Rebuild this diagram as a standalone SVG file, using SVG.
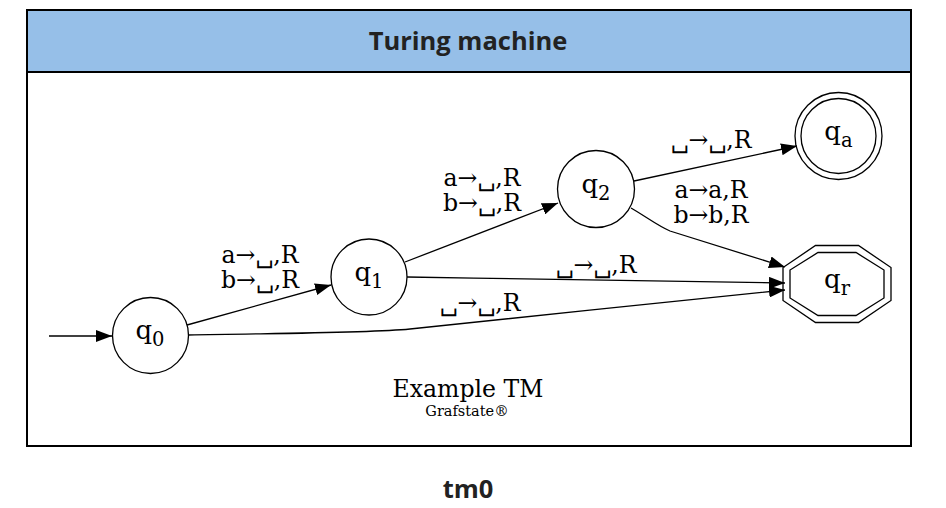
<svg xmlns="http://www.w3.org/2000/svg" width="946" height="508" viewBox="0 0 946 508">
<style>
.frame{fill:#ffffff;stroke:#000000;stroke-width:2}
.head{fill:#96bfe8;stroke:#000000;stroke-width:2}
.title{font-family:"Open Sans","Liberation Sans",sans-serif;font-weight:700;font-size:25.5px;fill:#222222;text-anchor:middle}
.node{fill:none;stroke:#000000;stroke-width:1.3}
.nl{font-family:"DejaVu Serif","Liberation Serif",serif;font-size:26px;fill:#000000;text-anchor:middle}
.sub{font-size:19.5px}
.edge{fill:none;stroke:#000000;stroke-width:1.3}
.el{font-family:"DejaVu Serif","Liberation Serif",serif;font-size:23.6px;fill:#000000;text-anchor:middle}
.gl{font-family:"DejaVu Serif","Liberation Serif",serif;font-size:23.6px;fill:#000000;text-anchor:middle}
.gs{font-family:"DejaVu Serif","Liberation Serif",serif;font-size:14.5px;fill:#000000;text-anchor:middle}
</style>
<defs>
<marker id="arr" viewBox="0 0 16 12" refX="16" refY="6" markerWidth="16" markerHeight="12" markerUnits="userSpaceOnUse" orient="auto">
<path d="M0,0 L16,6 L0,12 Z" fill="#000000"/>
</marker>
</defs>
<rect class="frame" x="27" y="10" width="884" height="436"/>
<rect class="head" x="27" y="10" width="884" height="62"/>
<text class="title" x="468" y="50">Turing machine</text>
<text class="title" x="468" y="498">tm0</text>

<g id="edges">
<path class="edge" d="M49,336 L112,336" marker-end="url(#arr)"/>
<path class="edge" d="M187,325 L331,285" marker-end="url(#arr)"/>
<text class="el" x="260" y="263">a→␣,R</text>
<text class="el" x="260" y="288">b→␣,R</text>
<path class="edge" d="M405,262 L558,203" marker-end="url(#arr)"/>
<text class="el" x="482" y="186">a→␣,R</text>
<text class="el" x="482" y="211">b→␣,R</text>
<path class="edge" d="M407,277 C540,279 680,282 785,283" marker-end="url(#arr)"/>
<text class="el" x="596" y="273">␣→␣,R</text>
<path class="edge" d="M188,335 C300,333 370,333 410,329 C520,318 680,300 785,290" marker-end="url(#arr)"/>
<text class="el" x="480" y="311">␣→␣,R</text>
<path class="edge" d="M634,181 L797,146" marker-end="url(#arr)"/>
<text class="el" x="711" y="148">␣→␣,R</text>
<path class="edge" d="M631,208 C645,216 658,226 670,231 L785,267" marker-end="url(#arr)"/>
<text class="el" x="711" y="198">a→a,R</text>
<text class="el" x="711" y="223">b→b,R</text>
</g>

<g id="q0">
<circle class="node" cx="150.5" cy="335.5" r="38"/>
<text class="nl" x="150" y="339">q<tspan class="sub" dy="7">0</tspan></text>
</g>
<g id="q1">
<circle class="node" cx="369" cy="277" r="38"/>
<text class="nl" x="369" y="280.5">q<tspan class="sub" dy="7">1</tspan></text>
</g>
<g id="q2">
<circle class="node" cx="596" cy="189" r="38.5"/>
<text class="nl" x="596" y="192.5">q<tspan class="sub" dy="7">2</tspan></text>
</g>
<g id="qa">
<circle class="node" cx="838.5" cy="136" r="43.5"/>
<circle class="node" cx="838.5" cy="136" r="37.5"/>
<text class="nl" x="838.5" y="139.5">q<tspan class="sub" dy="7">a</tspan></text>
</g>
<g id="qr">
<polygon class="node" points="815.5,245.5 858.5,245.5 891,267.5 891,300.5 858.5,322.5 815.5,322.5 783,300.5 783,267.5"/>
<polygon class="node" points="818,252.5 856,252.5 884,270 884,298 856,315.5 818,315.5 790,298 790,270"/>
<text class="nl" x="837" y="287.5">q<tspan class="sub" dy="7">r</tspan></text>
</g>

<g id="graph-label">
<text class="gl" x="468" y="397">Example TM</text>
<text class="gs" x="467" y="416">Grafstate®</text>
</g>
</svg>
